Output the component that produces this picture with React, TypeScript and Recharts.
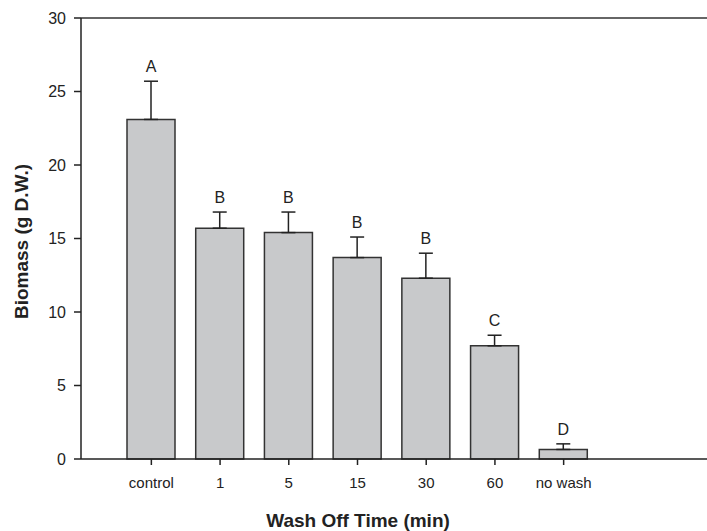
import { BarChart, Bar, XAxis, YAxis, ErrorBar, LabelList, ReferenceLine } from 'recharts'

const times = ['control', '1', '5', '15', '30', '60', 'no wash']
const biomass = [23.1, 15.7, 15.4, 13.7, 12.3, 7.7, 0.65]
const stdErr = [2.6, 1.1, 1.4, 1.4, 1.7, 0.72, 0.38]
const groups = ['A', 'B', 'B', 'B', 'B', 'C', 'D']
const yTicks = [0, 5, 10, 15, 20, 25, 30]

const data = times.map((t, i) => ({
  time: t,
  biomass: biomass[i],
  err: [0, stdErr[i]],
  group: groups[i],
}))

const font = '"Liberation Sans", Arial, sans-serif'
const ink = '#222'

// letter sits just above the error bar cap
const GroupLabel = (props: any) => {
  const { x, y, width, height, index, value } = props
  const pxPerUnit = height / biomass[index]
  const capY = y - stdErr[index] * pxPerUnit
  return (
    <text x={x + width / 2} y={capY - 9} textAnchor="middle" fontSize={16} fill={ink} fontFamily={font}>
      {value}
    </text>
  )
}

const YTitle = (props: any) => {
  const { viewBox } = props
  const cx = viewBox.x + 21
  const cy = viewBox.y + viewBox.height / 2 + 3
  return (
    <text
      x={cx}
      y={cy}
      transform={`rotate(-90, ${cx}, ${cy})`}
      textAnchor="middle"
      dominantBaseline="central"
      fontSize={19}
      fontWeight="bold"
      fill={ink}
      fontFamily={font}
    >
      Biomass (g D.W.)
    </text>
  )
}

export default function App() {
  return (
    <div style={{ position: 'absolute', left: 0, top: 0, width: 707, height: 531, background: '#fff' }}>
      <BarChart width={707} height={531} data={data} margin={{ top: 18, right: 0, bottom: 0, left: 0 }}>
        <XAxis
          dataKey="time"
          height={72}
          padding={{ left: 36, right: 109 }}
          tickSize={6}
          tickMargin={12}
          stroke={ink}
          strokeWidth={1.5}
          tick={{ fill: ink, fontSize: 15, fontFamily: font }}
          label={{
            value: 'Wash Off Time (min)',
            position: 'insideBottom',
            offset: 4,
            dx: -36,
            style: { fontSize: 19, fontWeight: 'bold', fill: ink, fontFamily: font },
          }}
        />
        <YAxis
          width={81}
          domain={[0, 30]}
          ticks={yTicks}
          tickSize={7}
          tickMargin={8}
          stroke={ink}
          strokeWidth={1.5}
          tick={{ fill: ink, fontSize: 16, fontFamily: font }}
          label={<YTitle />}
        />
        <ReferenceLine y={30} stroke="#666" strokeWidth={2} />
        <Bar dataKey="biomass" barSize={48} fill="#c8c9cb" stroke="#333" strokeWidth={1.5} isAnimationActive={false}>
          <ErrorBar dataKey="err" direction="y" width={7} stroke={ink} strokeWidth={1.5} />
          <LabelList dataKey="group" content={<GroupLabel />} />
        </Bar>
      </BarChart>
    </div>
  )
}
